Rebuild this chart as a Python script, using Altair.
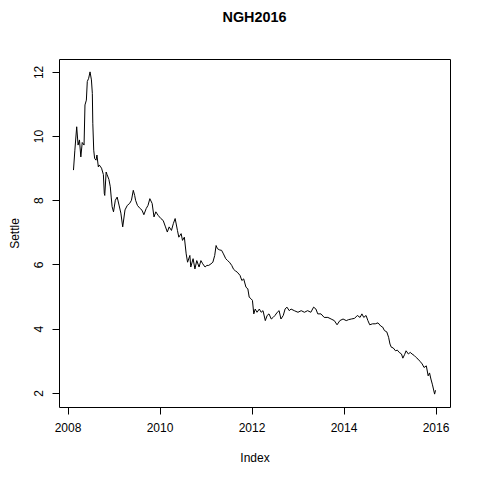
import altair as alt
import pandas as pd

# Time index (decimal years) and settle prices
index_years = [
    2008.13, 2008.16, 2008.20, 2008.23, 2008.26, 2008.29, 2008.32, 2008.36, 2008.38, 2008.41,
    2008.43, 2008.46, 2008.49, 2008.52, 2008.54, 2008.55, 2008.57, 2008.59, 2008.62, 2008.64,
    2008.67, 2008.69, 2008.74, 2008.78, 2008.80, 2008.81, 2008.84, 2008.86, 2008.90, 2008.93,
    2008.95, 2008.97, 2009.00, 2009.04, 2009.08, 2009.12, 2009.16, 2009.20, 2009.25, 2009.30,
    2009.35, 2009.39, 2009.43, 2009.46, 2009.48, 2009.52, 2009.58, 2009.62, 2009.66, 2009.71,
    2009.75, 2009.79, 2009.84, 2009.88, 2009.92, 2009.97, 2010.03, 2010.08, 2010.13, 2010.17,
    2010.21, 2010.26, 2010.30, 2010.34, 2010.39, 2010.42, 2010.47, 2010.50, 2010.54, 2010.58,
    2010.61, 2010.66, 2010.68, 2010.73, 2010.77, 2010.81, 2010.86, 2010.90, 2010.94, 2010.99,
    2011.03, 2011.07, 2011.12, 2011.16, 2011.20, 2011.23, 2011.26, 2011.31, 2011.35, 2011.39,
    2011.44, 2011.48, 2011.52, 2011.57, 2011.61, 2011.65, 2011.69, 2011.75, 2011.79, 2011.83,
    2011.88, 2011.92, 2011.95, 2011.99, 2012.02, 2012.05, 2012.08, 2012.12, 2012.17, 2012.21,
    2012.25, 2012.30, 2012.34, 2012.38, 2012.43, 2012.47, 2012.51, 2012.56, 2012.60, 2012.64,
    2012.69, 2012.73, 2012.77, 2012.82, 2012.86, 2012.93, 2013.01, 2013.08, 2013.15, 2013.22,
    2013.29, 2013.35, 2013.40, 2013.44, 2013.51, 2013.58, 2013.66, 2013.73, 2013.80, 2013.86,
    2013.92, 2013.99, 2014.06, 2014.11, 2014.17, 2014.24, 2014.30, 2014.36, 2014.40, 2014.44,
    2014.49, 2014.53, 2014.57, 2014.63, 2014.69, 2014.75, 2014.81, 2014.85, 2014.89, 2014.94,
    2014.98, 2015.01, 2015.04, 2015.08, 2015.13, 2015.17, 2015.21, 2015.26, 2015.29, 2015.33,
    2015.36, 2015.41, 2015.45, 2015.49, 2015.54, 2015.58, 2015.62, 2015.67, 2015.71, 2015.75,
    2015.80, 2015.84, 2015.87, 2015.90, 2015.93, 2015.95, 2015.98, 2016.00,
]

settle = [
    8.94, 9.56, 10.29, 9.72, 9.88, 9.35, 9.80, 9.72, 10.97, 11.12,
    11.70, 11.80, 12.00, 11.75, 11.33, 10.40, 9.56, 9.30, 9.25, 9.41,
    9.04, 9.10, 9.00, 8.80, 8.21, 8.15, 8.88, 8.80, 8.65, 8.42,
    8.10, 7.80, 7.64, 8.00, 8.10, 7.85, 7.60, 7.17, 7.70, 7.84,
    7.90, 8.00, 8.31, 8.15, 8.00, 7.84, 7.74, 7.69, 7.55, 7.74,
    7.84, 8.05, 7.90, 7.48, 7.64, 7.53, 7.43, 7.37, 7.17, 7.01,
    7.17, 7.06, 7.27, 7.43, 7.06, 6.85, 6.96, 6.75, 6.85, 6.33,
    6.07, 6.28, 5.92, 6.18, 5.86, 6.12, 5.92, 6.12, 6.02, 5.92,
    5.97, 5.97, 6.02, 6.07, 6.28, 6.59, 6.49, 6.45, 6.44, 6.33,
    6.18, 6.12, 6.07, 5.97, 5.85, 5.80, 5.76, 5.66, 5.50, 5.55,
    5.29, 5.24, 4.98, 4.93, 4.88, 4.46, 4.61, 4.51, 4.61, 4.51,
    4.56, 4.25, 4.41, 4.46, 4.30, 4.35, 4.41, 4.51, 4.56, 4.30,
    4.41, 4.61, 4.67, 4.56, 4.61, 4.56, 4.51, 4.56, 4.51, 4.56,
    4.51, 4.67, 4.61, 4.46, 4.46, 4.35, 4.35, 4.30, 4.25, 4.12,
    4.25, 4.30, 4.25, 4.28, 4.30, 4.32, 4.41, 4.35, 4.46, 4.35,
    4.41, 4.25, 4.12, 4.15, 4.15, 4.18, 4.08, 4.05, 3.94, 3.90,
    3.73, 3.52, 3.42, 3.40, 3.31, 3.33, 3.26, 3.21, 3.08, 3.20,
    3.31, 3.21, 3.26, 3.21, 3.16, 3.10, 3.05, 2.97, 2.90, 2.79,
    2.84, 2.53, 2.62, 2.43, 2.27, 2.15, 1.96, 2.08,
]

x_ticks = [2008, 2010, 2012, 2014, 2016]
y_ticks = [2, 4, 6, 8, 10, 12]

df = pd.DataFrame({"Index": index_years, "Settle": settle})

# R-style 4% axis extension
xr = max(index_years) - min(index_years)
yr = max(settle) - min(settle)
x_dom = [min(index_years) - 0.04 * xr, max(index_years) + 0.04 * xr]
y_dom = [min(settle) - 0.04 * yr, max(settle) + 0.04 * yr]

FONT = "Liberation Sans"
W, H = 391, 348

chart = (
    alt.Chart(df)
    .mark_line(color="black", strokeWidth=1, clip=True)
    .encode(
        x=alt.X(
            "Index:Q",
            scale=alt.Scale(domain=x_dom, nice=False, zero=False),
            axis=alt.Axis(
                values=x_ticks, format="d", grid=False, domain=False,
                tickSize=7, tickColor="black", tickWidth=1,
                labelFont=FONT, labelFontSize=12, labelColor="black",
                labelBaseline="middle", labelPadding=13, labelFlush=False,
                labelOverlap=False,
                title="Index", titleFont=FONT, titleFontSize=12,
                titleFontWeight="normal", titleColor="black",
                titleX=W / 2, titleY=50, titleBaseline="middle",
                titleAlign="center",
            ),
        ),
        y=alt.Y(
            "Settle:Q",
            scale=alt.Scale(domain=y_dom, nice=False, zero=False),
            axis=alt.Axis(
                values=y_ticks, format="d", grid=False, domain=False,
                tickSize=7, tickColor="black", tickWidth=1,
                labelFont=FONT, labelFontSize=12, labelColor="black",
                labelAngle=270, labelAlign="center", labelBaseline="middle",
                labelPadding=14, labelFlush=False, labelOverlap=False,
                title="Settle", titleFont=FONT, titleFontSize=12,
                titleFontWeight="normal", titleColor="black",
                titleX=-45, titleY=H / 2, titleAngle=270,
                titleBaseline="middle", titleAlign="center",
            ),
        ),
    )
    .properties(
        width=W,
        height=H,
        title=alt.TitleParams(
            "NGH2016", font=FONT, fontSize=14.4, fontWeight="bold",
            color="black", anchor="middle", baseline="middle", offset=27,
        ),
        autosize=alt.AutoSizeParams(type="none"),
        padding={"left": 51, "top": 51, "right": 22, "bottom": 65},
    )
    .configure(background="white")
    .configure_view(stroke="black", strokeWidth=1, fill="white")
)

chart.save("out.html", embed_options={"renderer": "svg", "actions": False})
